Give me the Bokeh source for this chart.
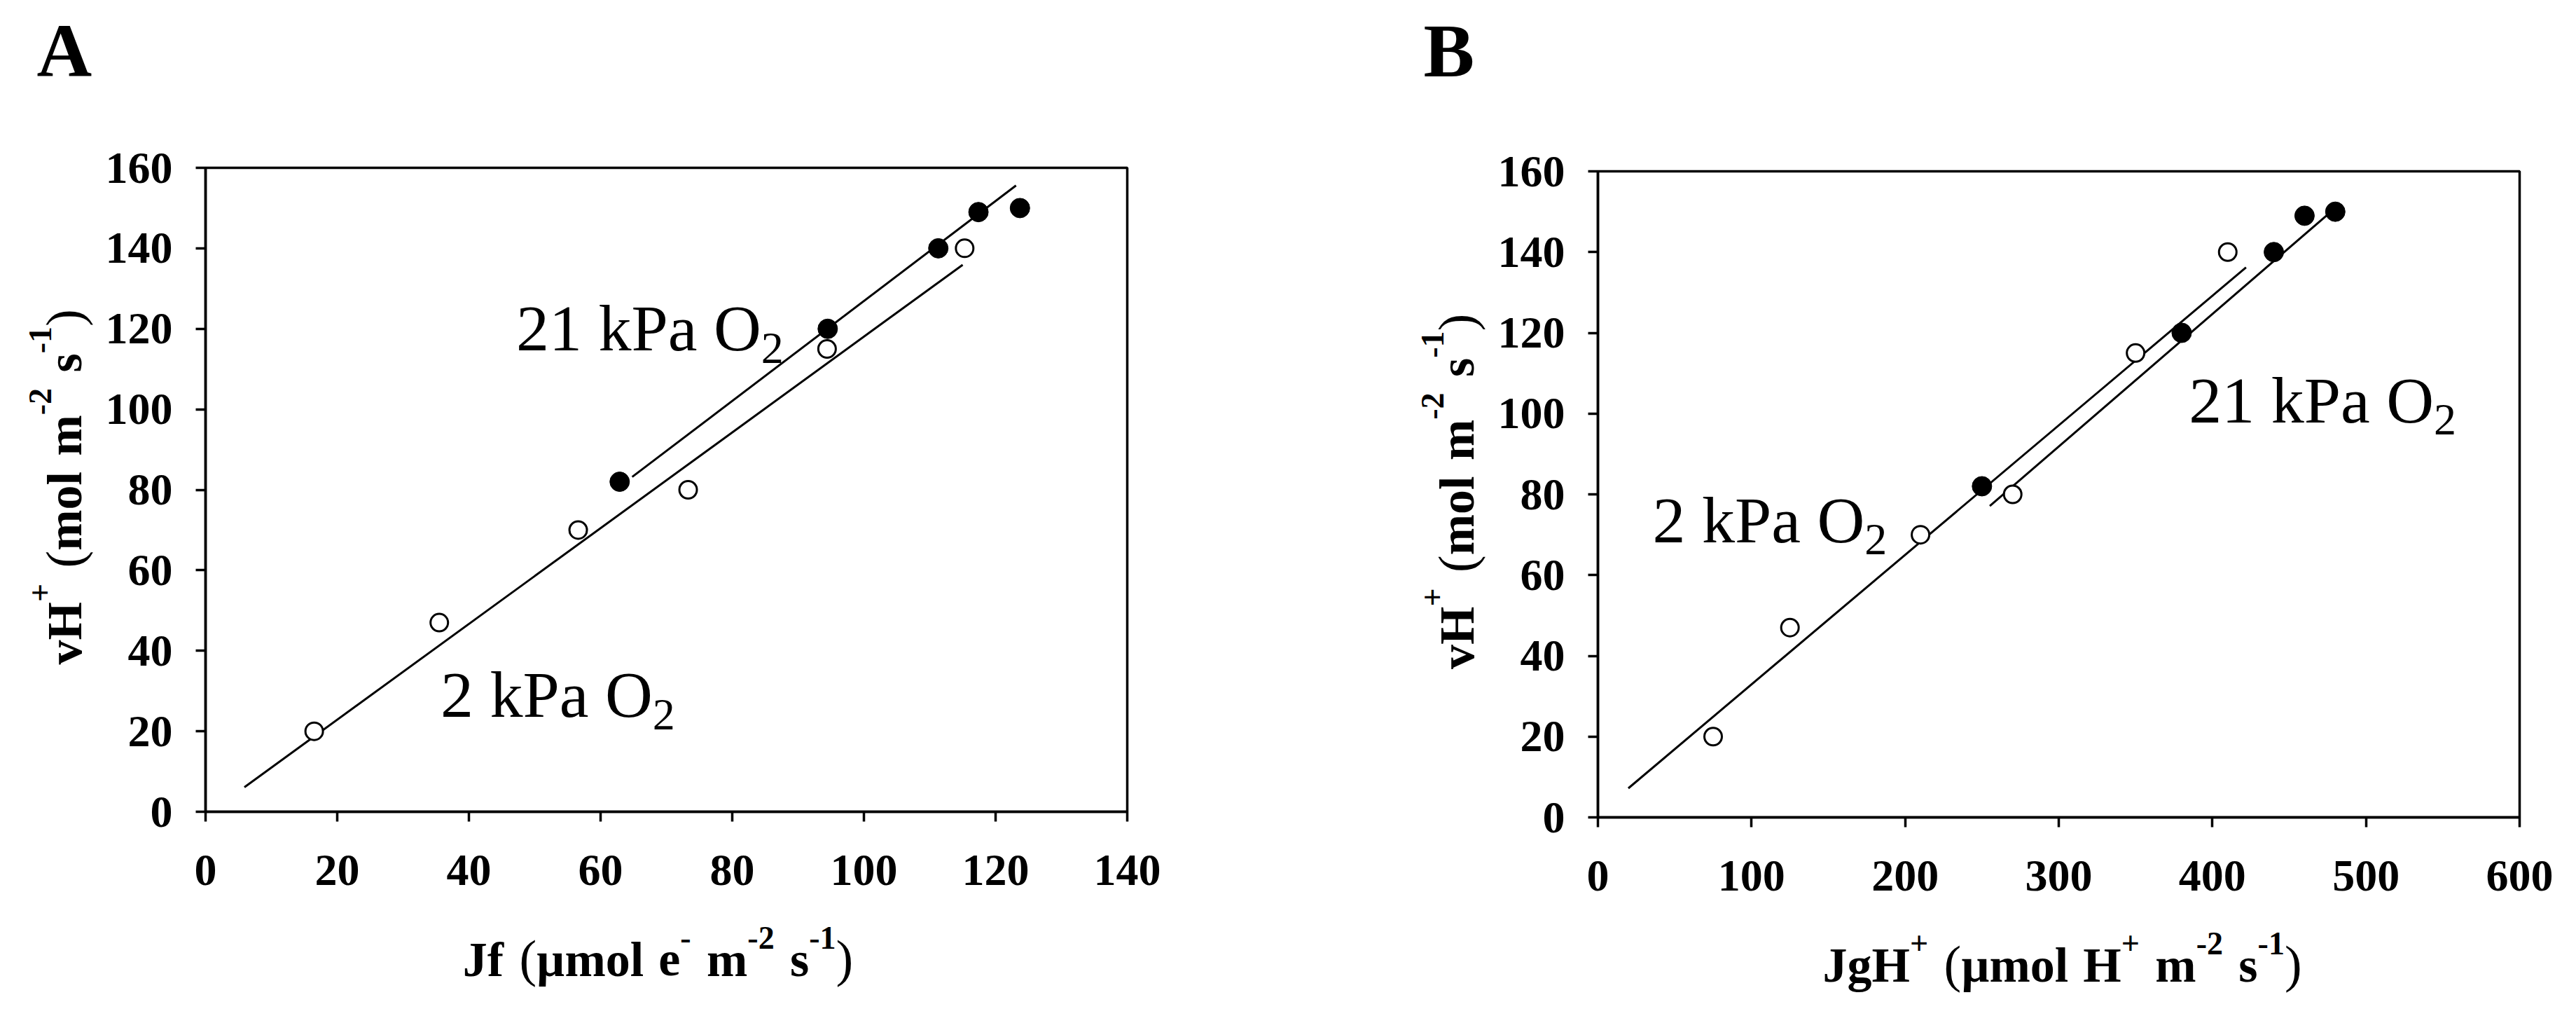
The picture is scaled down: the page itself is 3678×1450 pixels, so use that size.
import math
from bokeh.plotting import figure
from bokeh.models import Label, FixedTicker, Range1d, LinearAxis, BoxAnnotation
from bokeh.layouts import row
from bokeh.embed import file_html
from bokeh.resources import INLINE

# ---------------- data ----------------
vh_2kpa = [20, 47, 70, 80, 115, 140]
vh_21kpa = [82, 120, 140, 149, 150]
jf_2kpa = [16.5, 35.5, 56.6, 73.3, 94.4, 115.3]
jf_21kpa = [62.9, 94.5, 111.3, 117.4, 123.7]
jgh_2kpa = [75, 125, 210, 270, 350, 410]
jgh_21kpa = [250, 380, 440, 460, 480]

# fitted lines (end points)
fitA_2kpa_x = [5.9, 115.0]
fitA_2kpa_y = [6.1, 135.9]
fitA_21kpa_x = [64.8, 123.1]
fitA_21kpa_y = [83.2, 155.6]
fitB_2kpa_x = [19.8, 421.9]
fitB_2kpa_y = [7.2, 136.2]
fitB_21kpa_x = [255.1, 475.4]
fitB_21kpa_y = [77.1, 149.4]

xticks_A = [0, 20, 40, 60, 80, 100, 120, 140]
xticks_B = [0, 100, 200, 300, 400, 500, 600]
yticks = [0, 20, 40, 60, 80, 100, 120, 140, 160]

# annotation anchors (data units)
lbl_A_21 = (47.5, 116.1)
lbl_A_2 = (36.0, 25.0)
lbl_B_21 = (386.0, 99.3)
lbl_B_2 = (36.9, 69.6)

FONT = "Liberation Serif"

# approximate Times metrics (1/1000 em)
BOLD = {'v': 500, 'H': 778, '+': 570, ' ': 250, 'm': 833, 'o': 500, 'l': 278,
        's': 389, '-': 333, '1': 500, '2': 500, 'J': 500, 'f': 333, 'µ': 556,
        'e': 444, 'g': 500, '(': 333, ')': 333}
NORM = {'(': 333, ')': 333, '2': 500, '1': 500, ' ': 250, 'k': 500, 'P': 556,
        'a': 444, 'O': 722}

BASE_FIX_H = 0.25   # baseline correction (em) for horizontal labels
BASE_FIX_V = 0.12   # baseline correction (em) for rotated labels


def twidth(text, size, style):
    tab = BOLD if style == "bold" else NORM
    return sum(tab.get(c, 500) for c in text) * size / 1000.0


PAGE_OFF = 8  # page margin


class Panel:
    """Axis box geometry in page pixels plus its data ranges."""

    def __init__(self, fig_left, fl, ft, fw, fh, xr, yr):
        self.fig_left = fig_left
        self.fl, self.ft, self.fw, self.fh = fl, ft, fw, fh
        self.xr, self.yr = xr, yr

    def to_data(self, px, py):
        x = self.xr[0] + (px - self.fl) * (self.xr[1] - self.xr[0]) / self.fw
        y = self.yr[0] + (self.ft + self.fh - py) * (self.yr[1] - self.yr[0]) / self.fh
        return x, y

    def to_px(self, x, y):
        px = self.fl + (x - self.xr[0]) * self.fw / (self.xr[1] - self.xr[0])
        py = self.ft + self.fh - (y - self.yr[0]) * self.fh / (self.yr[1] - self.yr[0])
        return px, py


def make_fig(pn, width, height, xticks):
    x0, y1 = pn.to_data(pn.fig_left, PAGE_OFF)
    x1, y0 = pn.to_data(pn.fig_left + width, PAGE_OFF + height)
    p = figure(width=width, height=height, title=None,
               x_range=Range1d(x0, x1), y_range=Range1d(y0, y1),
               output_backend="svg", toolbar_location=None,
               x_axis_location=None, y_axis_location=None,
               min_border=0, min_border_left=0, min_border_right=0,
               min_border_top=0, min_border_bottom=0)
    p.background_fill_color = "white"
    p.border_fill_color = "white"
    p.outline_line_color = None
    for g in p.grid:
        g.visible = False
    p.renderers = [r for r in p.renderers if r.__class__.__name__ != "Grid"]
    p.center = [c for c in p.center if c.__class__.__name__ != "Grid"]

    xa = LinearAxis(fixed_location=pn.yr[0], bounds=pn.xr,
                    ticker=FixedTicker(ticks=xticks))
    ya = LinearAxis(fixed_location=pn.xr[0], bounds=pn.yr,
                    ticker=FixedTicker(ticks=yticks))
    for ax in (xa, ya):
        ax.axis_line_width = 3.5
        ax.axis_line_color = "black"
        ax.major_tick_line_width = 3.5
        ax.major_tick_line_color = "black"
        ax.major_tick_in = 0
        ax.major_tick_out = 14
        ax.minor_tick_in = 0
        ax.minor_tick_out = 0
        ax.major_label_text_font = FONT
        ax.major_label_text_font_style = "bold"
        ax.major_label_text_font_size = "64px"
        ax.major_label_text_color = "black"
    xa.major_label_standoff = 48
    ya.major_label_standoff = 33
    p.add_layout(xa, "below")
    p.add_layout(ya, "left")

    p.add_layout(BoxAnnotation(left=pn.xr[0], right=pn.xr[1], bottom=pn.yr[0],
                               top=pn.yr[1], fill_color=None, fill_alpha=0,
                               line_color="black", line_alpha=1.0,
                               line_width=3.5))
    return p


def place_run(p, pn, segs, x0, y0, rotated=False):
    pos = 0.0
    for seg in segs:
        if seg[0] is None:
            pos += seg[1]
            continue
        text, size, style, rise = seg
        if rotated:
            px, py = x0 - rise - BASE_FIX_V * size, y0 - pos
        else:
            px, py = x0 + pos, y0 - rise - BASE_FIX_H * size
        xd, yd = pn.to_data(px, py)
        p.add_layout(Label(x=xd, y=yd, text=text, text_font=FONT,
                           text_font_size=f"{size}px", text_font_style=style,
                           text_color="black", text_align="left",
                           text_baseline="alphabetic",
                           angle=(math.pi / 2 if rotated else 0.0)))
        pos += twidth(text, size, style)
    return pos


def run_width(segs):
    return sum(s[1] if s[0] is None else twidth(s[0], s[1], s[2]) for s in segs)


M, S, P, R = 70, 46, 74, 37
GAP = (None, 0.32 * M)


def ylabel_segs():
    return [("vH", M, "bold", 0), ("+", S, "bold", R), GAP, ("(", P, "normal", 0),
            ("mol", M, "bold", 0), GAP, ("m", M, "bold", 0), ("-2", S, "bold", R),
            GAP, ("s", M, "bold", 0), ("-1", S, "bold", R), (")", P, "normal", 0)]


xlabel_A = [("Jf", M, "bold", 0), GAP, ("(", P, "normal", 0), ("µmol", M, "bold", 0),
            GAP, ("e", M, "bold", 0), ("-", S, "bold", R), GAP, ("m", M, "bold", 0),
            ("-2", S, "bold", R), GAP, ("s", M, "bold", 0), ("-1", S, "bold", R),
            (")", P, "normal", 0)]
xlabel_B = [("JgH", M, "bold", 0), ("+", S, "bold", R), GAP, ("(", P, "normal", 0),
            ("µmol", M, "bold", 0), GAP, ("H", M, "bold", 0), ("+", S, "bold", R), GAP,
            ("m", M, "bold", 0), ("-2", S, "bold", R), GAP, ("s", M, "bold", 0),
            ("-1", S, "bold", R), (")", P, "normal", 0)]


def o2_label(p, pn, anchor, first):
    px, py = pn.to_px(*anchor)
    segs = [(first + " kPa O", 94, "normal", 0), ("2", 64, "normal", -21)]
    place_run(p, pn, segs, px - 3, py)


def draw_panel(p, pn, xo, xf, fx2, fy2, fx21, fy21, xlab, xoff, letter,
               letter_px, lbl21, lbl2):
    p.line(fx2, fy2, line_color="black", line_width=3)
    p.line(fx21, fy21, line_color="black", line_width=3)
    p.scatter(xo, vh_2kpa, marker="circle", size=25, fill_color="white",
              line_color="black", line_width=3)
    p.scatter(xf, vh_21kpa, marker="circle", size=28, fill_color="black",
              line_color="black", line_width=1)
    # panel letter
    place_run(p, pn, [(letter, 109, "bold", 0)], letter_px[0], letter_px[1])
    # y label (rotated)
    cy = pn.ft + pn.fh / 2.0
    place_run(p, pn, ylabel_segs(), pn.fl - 193, cy + 249.5, rotated=True)
    # x label
    w = run_width(xlab)
    cx = pn.fl + pn.fw / 2.0 + xoff
    place_run(p, pn, xlab, cx - w / 2.0, pn.ft + pn.fh + 228)
    o2_label(p, pn, lbl21, "21")
    o2_label(p, pn, lbl2, "2")


WA, WB, H = 1832, 1830, 1434
pnA = Panel(8, 301, 247, 1316, 919, (0, 140), (0, 160))
pnB = Panel(8 + WA, 2289, 252, 1316, 922, (0, 600), (0, 160))

pA = make_fig(pnA, WA, H, xticks_A)
pB = make_fig(pnB, WB, H, xticks_B)

draw_panel(pA, pnA, jf_2kpa, jf_21kpa, fitA_2kpa_x, fitA_2kpa_y, fitA_21kpa_x,
           fitA_21kpa_y, xlabel_A, -12, "A", (60, 107), lbl_A_21, lbl_A_2)
draw_panel(pB, pnB, jgh_2kpa, jgh_21kpa, fitB_2kpa_x, fitB_2kpa_y, fitB_21kpa_x,
           fitB_21kpa_y, xlabel_B, 5, "B", (2040, 107), lbl_B_21, lbl_B_2)

layout = row(pA, pB)
open("out.html", "w").write(file_html(layout, INLINE))
